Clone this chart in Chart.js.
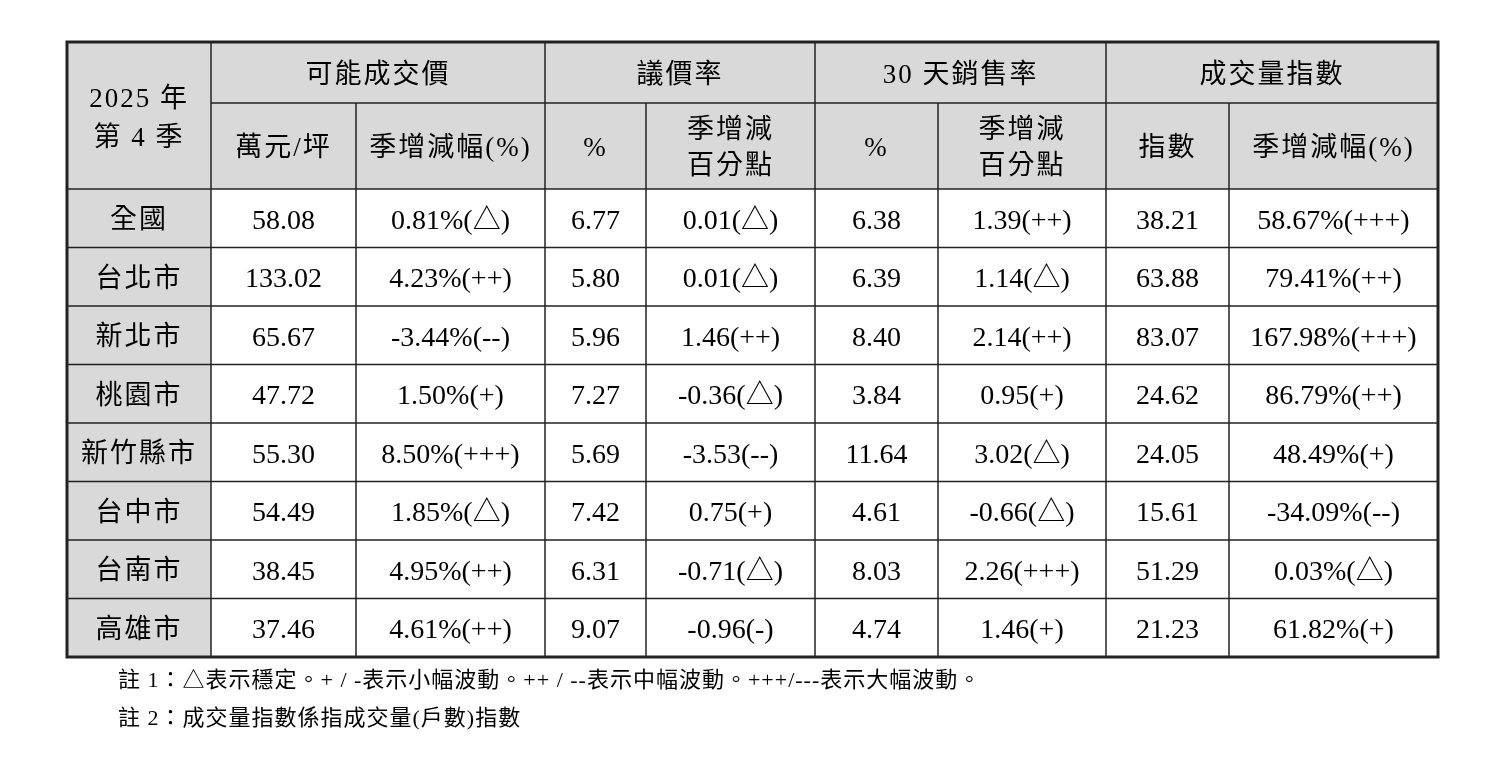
<!DOCTYPE html>
<html lang="zh-Hant">
<head>
<meta charset="UTF-8">
<title>2025 年第 4 季</title>
<script src="https://cdn.jsdelivr.net/npm/chart.js"></script>
<style>
  body { margin: 0; background: #fff; }
  #wrap { width: 1502px; height: 760px; }
</style>
</head>
<body>
<div id="wrap"><canvas id="tbl"></canvas></div>
<script>
const groupHeaders = ['可能成交價', '議價率', '30 天銷售率', '成交量指數'];
const subHeaders = ['萬元/坪', '季增減幅(%)', '%', '季增減\n百分點', '%', '季增減\n百分點', '指數', '季增減幅(%)'];
const cities = ['全國', '台北市', '新北市', '桃園市', '新竹縣市', '台中市', '台南市', '高雄市'];
const price = ['58.08', '133.02', '65.67', '47.72', '55.30', '54.49', '38.45', '37.46'];
const priceChg = ['0.81%(△)', '4.23%(++)', '-3.44%(--)', '1.50%(+)', '8.50%(+++)', '1.85%(△)', '4.95%(++)', '4.61%(++)'];
const bargain = ['6.77', '5.80', '5.96', '7.27', '5.69', '7.42', '6.31', '9.07'];
const bargainChg = ['0.01(△)', '0.01(△)', '1.46(++)', '-0.36(△)', '-3.53(--)', '0.75(+)', '-0.71(△)', '-0.96(-)'];
const sales30 = ['6.38', '6.39', '8.40', '3.84', '11.64', '4.61', '8.03', '4.74'];
const sales30Chg = ['1.39(++)', '1.14(△)', '2.14(++)', '0.95(+)', '3.02(△)', '-0.66(△)', '2.26(+++)', '1.46(+)'];
const volume = ['38.21', '63.88', '83.07', '24.62', '24.05', '15.61', '51.29', '21.23'];
const volumeChg = ['58.67%(+++)', '79.41%(++)', '167.98%(+++)', '86.79%(++)', '48.49%(+)', '-34.09%(--)', '0.03%(△)', '61.82%(+)'];
const notes = ['註 1：△表示穩定。+ / -表示小幅波動。++ / --表示中幅波動。+++/---表示大幅波動。', '註 2：成交量指數係指成交量(戶數)指數'];

// layout (page units)
const colEdges = [67, 211, 356, 545, 646, 815, 938, 1106, 1229, 1438];
const rowEdges = [42, 103, 189, 247.5, 306, 364.5, 423, 481.5, 540, 598.5, 657];
const FONT = '"Liberation Serif", "Noto Sans CJK TC", serif';

const tablePlugin = {
  id: 'table',
  afterDraw(chart) {
    const c = chart.ctx, X = chart.scales.x, Y = chart.scales.y;
    const px = v => X.getPixelForValue(v), py = v => Y.getPixelForValue(v);
    const rect = (x0, y0, x1, y1, fill) => {
      c.fillStyle = fill;
      c.fillRect(px(x0), py(y0), px(x1) - px(x0), py(y1) - py(y0));
    };
    const text = (s, x0, y0, x1, y1) => {
      const lines = s.split('\n');
      const cx = (px(x0) + px(x1)) / 2, cy = (py(y0) + py(y1)) / 2 + 3;
      const lh = 36;
      lines.forEach((l, i) => c.fillText(l, cx, cy + (i - (lines.length - 1) / 2) * lh));
    };
    const line = (x0, y0, x1, y1, w) => {
      c.lineWidth = w; c.beginPath();
      c.moveTo(px(x0), py(y0)); c.lineTo(px(x1), py(y1)); c.stroke();
    };
    c.save();
    const grey = '#d9d9d9';
    rect(colEdges[0], rowEdges[0], colEdges[9], rowEdges[2], grey);
    rect(colEdges[0], rowEdges[2], colEdges[1], rowEdges[10], grey);

    c.fillStyle = '#000'; c.textAlign = 'center'; c.textBaseline = 'middle';
    c.font = '27px ' + FONT;
    c.letterSpacing = '2px';
    c.fillText('2025 年', (px(colEdges[0]) + px(colEdges[1])) / 2, py(100));
    c.fillText('第 4 季', (px(colEdges[0]) + px(colEdges[1])) / 2, py(139));
    groupHeaders.forEach((g, i) => text(g, colEdges[1 + i * 2], rowEdges[0], colEdges[3 + i * 2], rowEdges[1]));
    subHeaders.forEach((s, i) => text(s, colEdges[1 + i], rowEdges[1], colEdges[2 + i], rowEdges[2]));
    cities.forEach((s, r) => text(s, colEdges[0], rowEdges[2 + r], colEdges[1], rowEdges[3 + r]));
    c.letterSpacing = '0px';
    c.font = '28px ' + FONT;
    const cols = [price, priceChg, bargain, bargainChg, sales30, sales30Chg, volume, volumeChg];
    cols.forEach((col, i) => col.forEach((v, r) =>
      text(v, colEdges[1 + i], rowEdges[2 + r], colEdges[2 + i], rowEdges[3 + r])));

    c.strokeStyle = '#222';
    line(colEdges[1], rowEdges[1], colEdges[9], rowEdges[1], 1.5);
    for (let r = 2; r < 10; r++) line(colEdges[0], rowEdges[r], colEdges[9], rowEdges[r], 1.5);
    for (let k = 1; k < 9; k++) {
      const y0 = (k % 2 === 0) ? rowEdges[1] : rowEdges[0];
      line(colEdges[k], y0, colEdges[k], rowEdges[10], 1.5);
    }
    c.lineWidth = 3;
    c.strokeRect(px(colEdges[0]), py(rowEdges[0]), px(colEdges[9]) - px(colEdges[0]), py(rowEdges[10]) - py(rowEdges[0]));

    c.textAlign = 'left';
    c.font = '22px ' + FONT;
    c.letterSpacing = '1px';
    c.fillText(notes[0], px(118), py(681));
    c.fillText(notes[1], px(118), py(719));
    c.restore();
  }
};

new Chart(document.getElementById('tbl'), {
  type: 'scatter',
  data: { datasets: [{ data: [] }] },
  options: {
    responsive: true,
    maintainAspectRatio: false,
    animation: false,
    layout: { padding: 0 },
    plugins: { legend: { display: false }, tooltip: { enabled: false } },
    scales: {
      x: { type: 'linear', min: 0, max: 1502, display: false },
      y: { type: 'linear', min: 0, max: 760, reverse: true, display: false }
    }
  },
  plugins: [tablePlugin]
});
</script>
</body>
</html>
